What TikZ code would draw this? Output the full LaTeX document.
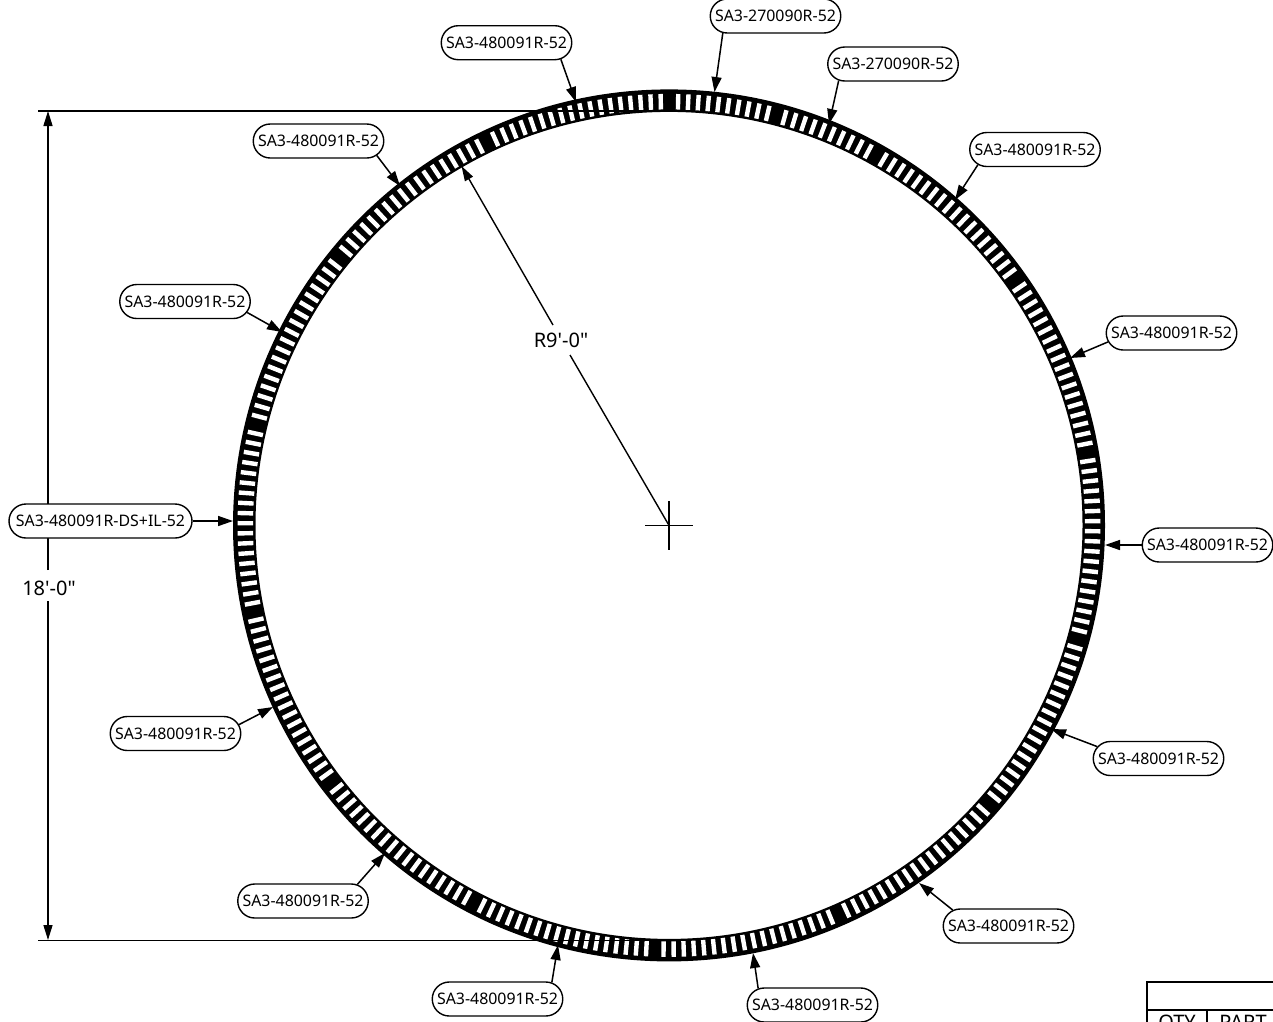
\documentclass[tikz,border=0pt]{standalone}
\usepackage{fontspec}
\newfontfamily\lblfont{Noto Sans}
\usetikzlibrary{arrows.meta,shapes.misc}
\tikzset{
  pill/.style={draw=black,line width=1.4pt,fill=white,rounded rectangle,rounded rectangle arc length=180,inner sep=0pt,minimum height=34pt,minimum width=#1,align=center,font=\lblfont\fontsize{15.9}{17}\selectfont},
  pill/.default=130.5pt,
  leader/.style={line width=1.5pt,-{Triangle[length=15pt,width=10pt]}},
  dimline/.style={line width=1.4pt},
  dimtip/.style={line width=1.4pt,-{Triangle[length=15pt,width=9pt]}},
  dimtext/.style={font=\lblfont\fontsize{20}{22}\selectfont,inner sep=0pt},
  tabletext/.style={font=\lblfont\fontsize{20}{22}\selectfont,inner sep=0pt,anchor=base}
}
\begin{document}
\begin{tikzpicture}[x=1pt,y=-1pt]
\useasboundingbox (0,0) rectangle (1273,1021);
\clip (0,0) rectangle (1273,1021);
\fill[white] (0,0) rectangle (1273,1021);
% ring
\begin{scope}[shift={(669,525.4)},y=1pt]
  \draw[line width=22.5pt,black] (0,0) circle (424.75);
  \foreach \s/\d/\n in {89.95/-14.6/10,75.35/-14.55/10,60.8/-25.45/18,35.35/-25.45/18,9.9/-25.45/18,-15.55/-25.45/18,-41/-25.45/18,-66.45/-25.45/18,-91.9/-25.45/18,-117.35/-25.45/18,-142.8/-25.45/18,-168.25/-25.45/18,166.3/-25.45/18,140.85/-25.45/18,115.4/-25.45/18}{
    \pgfmathsetmacro{\last}{int(\n-1)}
    \foreach \k in {0,...,\last}{
      \pgfmathsetmacro{\ang}{\s+\d/2+(\k-(\n-1)/2)*1.36*(\d<0?-1:1)}
      \draw[white,line width=4.4pt] (\ang:416) -- (\ang:431.5);
    }
  }
\end{scope}
% centre mark
\coordinate (cc) at (669,525.4);
\coordinate (cl) at (645,525.4);
\coordinate (cr) at (693,525.4);
\coordinate (ct) at (669,501);
\coordinate (cb) at (669,550);
\draw[dimline] (cl) -- (cr);
\draw[dimline] (ct) -- (cb);
% radius
\node[dimtext] (rad) at (561,340) {R9'-0"};
\coordinate (rtip) at (461.5,166);
\draw[dimline] (cc) -- (570,355);
\draw[dimtip] (553,325) -- (rtip);
% diameter
\coordinate (dt) at (48,111);
\coordinate (db) at (48,940);
\coordinate (ext1) at (38,111);
\coordinate (ext1e) at (650,111);
\coordinate (ext2) at (38,940.5);
\coordinate (ext2e) at (650,940.5);
\draw[dimline] (ext1) -- (ext1e);
\draw[dimline] (ext2) -- (ext2e);
\node[dimtext] (dia) at (49,588) {18'-0"};
\draw[dimtip] (48,570) -- (dt);
\draw[dimtip] (48,601) -- (db);
% labels
\node[pill] (a) at (775.5,16) {SA3-270090R-52};
\node[pill] (b) at (506.5,42.7) {SA3-480091R-52};
\node[pill] (c) at (893,64) {SA3-270090R-52};
\node[pill] (d) at (1035,149.5) {SA3-480091R-52};
\node[pill] (e) at (318.5,141) {SA3-480091R-52};
\node[pill] (f) at (1171.5,333) {SA3-480091R-52};
\node[pill] (g) at (185,301.5) {SA3-480091R-52};
\node[pill=183pt] (h) at (100.5,521) {SA3-480091R-DS+IL-52};
\node[pill] (i) at (1207.5,545) {SA3-480091R-52};
\node[pill] (j) at (175.5,733.5) {SA3-480091R-52};
\node[pill] (k) at (1158.5,758.5) {SA3-480091R-52};
\node[pill] (l) at (303,901) {SA3-480091R-52};
\node[pill] (m) at (1008.5,926) {SA3-480091R-52};
\node[pill] (n) at (497.5,999) {SA3-480091R-52};
\node[pill] (o) at (812.5,1005) {SA3-480091R-52};
% leaders
\coordinate (ta) at (714.5,92);
\coordinate (tb) at (576,102);
\coordinate (tc) at (829,124);
\coordinate (td) at (955,200);
\coordinate (te) at (400,186);
\coordinate (tf) at (1070,358);
\coordinate (tg) at (282,332);
\coordinate (th) at (233,521);
\coordinate (ti) at (1105,545);
\coordinate (tj) at (273,707);
\coordinate (tk) at (1051,729);
\coordinate (tl) at (385,853);
\coordinate (tm) at (919,883);
\coordinate (tn) at (558,945);
\coordinate (to) at (753,953);
\draw[leader] (a.198) -- (ta);
\draw[leader] (b.-17) -- (tb);
\draw[leader] (c.197) -- (tc);
\draw[leader] (d.195) -- (td);
\draw[leader] (e.-14) -- (te);
\draw[leader] (f.188) -- (tf);
\draw[leader] (g.-10) -- (tg);
\draw[leader] (h.east) -- (th);
\draw[leader] (i.west) -- (ti);
\draw[leader] (j.8) -- (tj);
\draw[leader] (k.169) -- (tk);
\draw[leader] (l.17) -- (tl);
\draw[leader] (m.164) -- (tm);
\draw[leader] (n.17) -- (tn);
\draw[leader] (o.163) -- (to);
% table
\draw[line width=1.8pt] (1147,982) rectangle (1300,1040);
\draw[line width=1.4pt] (1147,1010) -- (1300,1010);
\draw[line width=1.4pt] (1207,1010) -- (1207,1040);
\node[tabletext] (qty) at (1177,1029.5) {QTY};
\node[tabletext] (part) at (1243,1029.5) {PART};
\end{tikzpicture}
\end{document}
